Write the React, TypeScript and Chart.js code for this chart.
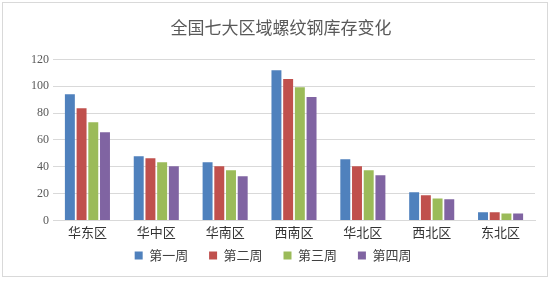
import React, { useEffect, useRef } from "react";
import { Chart, registerables } from "chart.js";

Chart.register(...registerables);

const categories = ["华东区", "华中区", "华南区", "西南区", "华北区", "西北区", "东北区"];
const seriesNames = ["第一周", "第二周", "第三周", "第四周"];
const week1 = [94.1, 47.8, 43.3, 112, 45.6, 20.9, 6.0];
const week2 = [83.6, 46.3, 40.3, 105.3, 40.3, 18.7, 6.0];
const week3 = [73.2, 43.3, 37.3, 99.3, 37.3, 16.4, 5.2];
const week4 = [65.7, 40.3, 32.9, 91.9, 33.6, 15.7, 5.2];
const colors = ["#4F81BD", "#C0504D", "#9BBB59", "#8064A2"];
const titleText = "全国七大区域螺纹钢库存变化";

export default function App() {
  const ref = useRef<HTMLCanvasElement>(null);
  useEffect(() => {
    const cjk = "'Noto Sans CJK SC', sans-serif";
    const data = [week1, week2, week3, week4];
    const chart = new Chart(ref.current!, {
      type: "bar",
      data: {
        labels: categories,
        datasets: seriesNames.map((n, i) => ({
          label: n,
          data: data[i],
          backgroundColor: colors[i],
          borderWidth: 0,
          barPercentage: 0.85,
          categoryPercentage: 0.68,
        })),
      },
      options: {
        animation: false,
        responsive: false,
        maintainAspectRatio: false,
        layout: { padding: { left: 27, right: 17, top: 13, bottom: 9 } },
        plugins: {
          title: {
            display: true,
            text: titleText,
            color: "#595959",
            font: { family: cjk, size: 17, weight: "normal" },
            padding: { top: 4, bottom: 22 },
          },
          legend: {
            display: true,
            position: "bottom",
            labels: {
              boxWidth: 8,
              boxHeight: 8,
              padding: 5,
              color: "#404040",
              font: { family: cjk, size: 13 },
              generateLabels: (c: any) => {
                const base = Chart.defaults.plugins.legend.labels.generateLabels(c);
                return base.map((l: any) => ({ ...l, text: l.text + "\u3000 " }));
              },
            },
          },
          tooltip: { enabled: false },
        },
        scales: {
          x: {
            grid: { display: false, drawTicks: false },
            border: { color: "#d9d9d9" },
            ticks: { color: "#333333", font: { family: cjk, size: 13 }, padding: 4 },
          },
          y: {
            min: 0,
            max: 120,
            ticks: {
              stepSize: 20,
              color: "#595959",
              font: { family: "'Liberation Serif', serif", size: 12 },
              padding: 4,
            },
            grid: { color: "#d9d9d9", drawTicks: false },
            border: { display: false },
          },
        },
      },
    });
    return () => chart.destroy();
  }, []);
  return (
    <div style={{ position: "fixed", left: 0, top: 0, width: 552, height: 281, background: "#fff" }}>
      <canvas ref={ref} width={552} height={281} style={{ position: "absolute", left: 0, top: 0 }} />
      <div
        style={{
          position: "absolute",
          left: 2,
          top: 2,
          width: 546,
          height: 275,
          border: "1px solid #d9d9d9",
          boxSizing: "border-box",
          pointerEvents: "none",
        }}
      />
    </div>
  );
}
